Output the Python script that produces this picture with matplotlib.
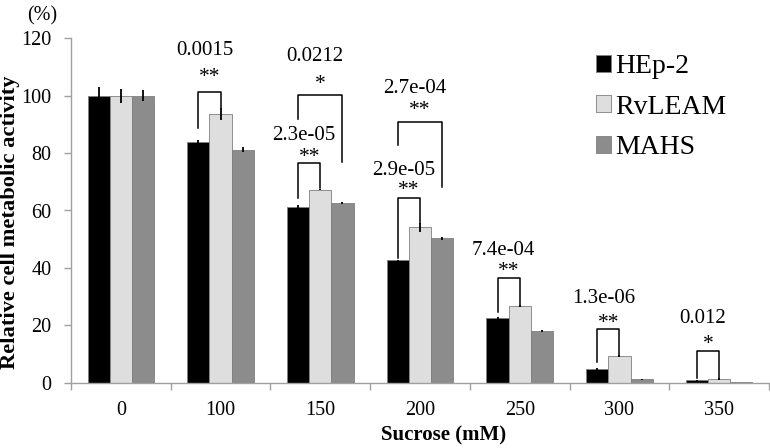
import matplotlib
matplotlib.use("Agg")
import matplotlib.pyplot as plt
import numpy as np

plt.rcParams['font.family'] = ['Liberation Serif', 'DejaVu Serif']

categories = ["0", "100", "150", "200", "250", "300", "350"]
series_names = ["HEp-2", "RvLEAM", "MAHS"]
hep2 = [100.0, 83.8, 61.3, 42.6, 22.4, 4.7, 0.8]
rvleam = [100.0, 93.6, 67.3, 54.2, 26.8, 9.2, 1.3]
mahs = [100.0, 81.2, 62.7, 50.3, 18.0, 1.2, 0.3]
hep2_err = [3.0, 0.8, 0.5, 0.3, 0.4, 0.3, 0.2]
rvleam_err = [2.4, 2.2, 0.3, 1.6, 0.4, 0.3, 0.2]
mahs_err = [2.0, 0.8, 0.3, 0.6, 0.3, 0.2, 0.1]
colors = ["#000000", "#dedede", "#8c8c8c"]

# significance: (category, left series, right series, stars, p-value text)
sig_cat = [1, 2, 2, 3, 3, 4, 5, 6]
sig_left = [0, 0, 0, 0, 0, 0, 0, 0]
sig_right = [1, 2, 1, 2, 1, 1, 1, 1]
sig_stars = ["**", "*", "**", "**", "**", "**", "**", "*"]
sig_p = ["0.0015", "0.0212", "2.3e-05", "2.7e-04", "2.9e-05", "7.4e-04", "1.3e-06", "0.012"]
# bracket geometry (data units): top, left-leg bottom, right-leg bottom, stars y, p y
br_top = [101.4, 100.2, 76.4, 90.7, 64.2, 36.4, 18.6, 11.1]
br_lbot = [88.7, 91.8, 64.2, 82.8, 43.3, 24.7, 7.3, 1.5]
br_rbot = [95.7, 77.0, 67.7, 68.3, 55.5, 27.0, 9.3, 1.6]
star_y = [106.5, 103.8, 78.6, 94.8, 66.8, 38.8, 20.6, 13.3]
p_y = [115.9, 113.6, 86.0, 102.6, 73.8, 46.2, 29.4, 22.4]

fig = plt.figure(figsize=(7.70, 4.48), dpi=100)
ax = fig.add_axes([71/770, 1-382.7/448, 698/770, (382.7-38.3)/448])

n = len(categories)
w = 1/1.5/3
data = [hep2, rvleam, mahs]
errs = [hep2_err, rvleam_err, mahs_err]
centers = np.arange(n) + 0.5
for j in range(3):
    xs = centers + (j-1)*w
    ax.bar(xs, data[j], width=w, color=colors[j], edgecolor="#7f7f7f",
           linewidth=0.6, label=series_names[j], zorder=2)
    ax.errorbar(xs, data[j], yerr=errs[j], fmt='none', ecolor='black',
                elinewidth=1.3, capsize=0, zorder=3)

for k in range(len(sig_cat)):
    c = sig_cat[k]
    xl = centers[c] + (sig_left[k]-1)*w
    xr = centers[c] + (sig_right[k]-1)*w
    ax.plot([xl, xl, xr, xr], [br_lbot[k], br_top[k], br_top[k], br_rbot[k]],
            color='black', lw=1.1, zorder=4)
    xm = (xl+xr)/2
    ax.text(xm, star_y[k], sig_stars[k], ha='center', va='center', fontsize=15.5)
    ax.text(xm-0.05, p_y[k], sig_p[k], ha='center', va='center', fontsize=15)

ax.set_xlim(0, n)
ax.set_ylim(0, 120)
ax.set_yticks(np.arange(0, 121, 20))
ax.set_xticks(centers)
ax.set_xticklabels(categories)
ax.set_xticks(np.arange(0, n+1), minor=True)
ax.tick_params(axis='x', which='major', length=0, pad=13, labelsize=14.5)
ax.tick_params(axis='x', which='minor', length=5, color='#a0a0a0', width=1)
ax.tick_params(axis='y', which='major', length=5, color='#a0a0a0', width=1, pad=9, labelsize=14.5)
for s in ['top', 'right']:
    ax.spines[s].set_visible(False)
for s in ['left', 'bottom']:
    ax.spines[s].set_color('#a0a0a0')
    ax.spines[s].set_linewidth(1.0)

ax.set_xlabel("Sucrose (mM)", fontsize=15, fontweight='bold', labelpad=0)
ax.xaxis.set_label_coords(373/698, -(425-382.7)/344.4)
ax.set_ylabel("Relative cell metabolic activity", fontsize=16.2, fontweight='bold')
ax.yaxis.set_label_coords(-(71-20)/698, (382.7-222)/344.4)
fig.text(42/770, 1-16/448, "(%)", ha='center', va='center', fontsize=14.5)

leg = ax.legend(loc='upper left', bbox_to_anchor=(596/770, 1-54/448),
                bbox_transform=fig.transFigure, frameon=False, fontsize=20,
                handlelength=0.55, handleheight=0.55, handletextpad=0.15,
                labelspacing=0.56, borderaxespad=0, borderpad=0)

fig.savefig("out.png", dpi=100)
